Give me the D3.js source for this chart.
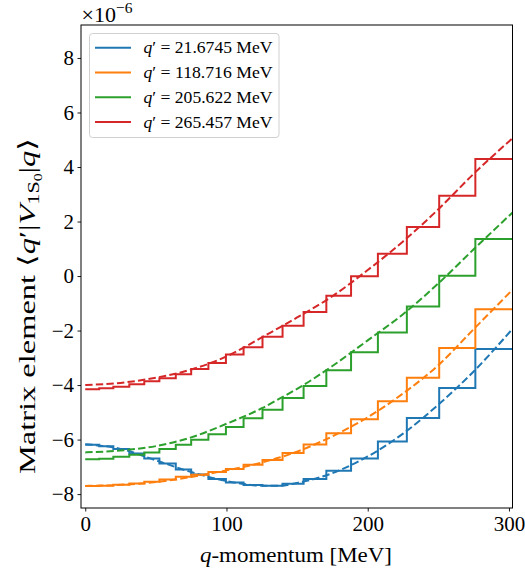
<!DOCTYPE html>
<html>
<head>
<meta charset="utf-8">
<script src="https://cdn.jsdelivr.net/npm/d3@7"></script>
<style>
  html, body { margin: 0; padding: 0; background: #fff; }
  svg { display: block; }
  text { font-family: "Liberation Serif", "DejaVu Serif", serif; fill: #000; }
</style>
</head>
<body>
<svg id="chart" width="525" height="576"></svg>
<script>
// ---------- data (values in units of 1e-6) ----------
const seriesNames = ["21.6745", "118.716", "205.622", "265.457"];
const seriesColors = ["#1f77b4", "#ff7f0e", "#2ca02c", "#d62728"];

// edges of the step (stairs) segments, MeV
const stepEdges = [0, 9.9, 19.9, 31.2, 41.8, 52.5, 64.1, 75.0, 87.2, 99.6, 112.1,
                   125.5, 139.7, 154.6, 170.7, 188.2, 207.2, 227.7, 250.6, 276.2, 310];

const stepBlue   = [-6.19, -6.24, -6.35, -6.51, -6.69, -6.88, -7.10, -7.28, -7.45, -7.57,
                    -7.67, -7.69, -7.62, -7.45, -7.14, -6.69, -6.07, -5.21, -4.11, -2.68];
const stepOrange = [-7.70, -7.69, -7.66, -7.61, -7.55, -7.46, -7.36, -7.29, -7.19, -7.08,
                    -6.92, -6.75, -6.49, -6.18, -5.77, -5.25, -4.59, -3.73, -2.64, -1.22];
const stepGreen  = [-6.72, -6.70, -6.63, -6.56, -6.47, -6.35, -6.19, -6.01, -5.80, -5.54,
                    -5.22, -4.91, -4.47, -4.03, -3.46, -2.80, -2.07, -1.12, 0.01, 1.36];
const stepRed    = [-4.15, -4.12, -4.06, -3.97, -3.86, -3.75, -3.60, -3.41, -3.19, -2.88,
                    -2.61, -2.23, -1.82, -1.32, -0.72, -0.01, 0.82, 1.80, 2.95, 4.29];

// dashed (continuous) curves sampled at these momenta, MeV
const dashQ      = [0, 25, 50, 75, 100, 112.5, 125, 137.5, 150, 175, 200, 225, 250, 275, 303.5];
const dashBlue   = [-6.17, -6.34, -6.76, -7.19, -7.52, -7.63, -7.69, -7.69, -7.59, -7.23, -6.62, -5.78, -4.72, -3.50, -1.88];
const dashOrange = [-7.70, -7.66, -7.56, -7.37, -7.13, -7.00, -6.84, -6.66, -6.44, -5.88, -5.18, -4.31, -3.27, -1.95, -0.45];
const dashGreen  = [-6.47, -6.40, -6.24, -5.92, -5.42, -5.15, -4.85, -4.50, -4.14, -3.30, -2.36, -1.40, -0.27, 0.98, 2.38];
const dashRed    = [-4.00, -3.92, -3.73, -3.43, -2.95, -2.62, -2.25, -1.89, -1.52, -0.74, 0.22, 1.27, 2.45, 3.75, 5.10];

const xTicks = [0, 100, 200, 300];
const yTicks = [-8, -6, -4, -2, 0, 2, 4, 6, 8];

const stepSeries = [stepBlue, stepOrange, stepGreen, stepRed];
const dashSeries = [dashBlue, dashOrange, dashGreen, dashRed];

// ---------- layout ----------
const svg = d3.select("#chart");
const L = 81, R = 512.5, T = 25, B = 508;
const x = d3.scaleLinear().domain([-3.0, 302.5]).range([L, R]);
const y = d3.scaleLinear().domain([-8.51, 9.21]).range([B, T]);

svg.append("defs").append("clipPath").attr("id", "plotclip")
  .append("rect").attr("x", L).attr("y", T).attr("width", R - L).attr("height", B - T);

const plot = svg.append("g").attr("clip-path", "url(#plotclip)");

const stairLine = d3.line().x(d => x(d[0])).y(d => y(d[1])).curve(d3.curveStepAfter);
const smoothLine = d3.line().x(d => x(d[0])).y(d => y(d[1])).curve(d3.curveMonotoneX);

stepSeries.forEach((vals, i) => {
  const pts = vals.map((v, k) => [stepEdges[k], v]);
  pts.push([stepEdges[stepEdges.length - 1], vals[vals.length - 1]]);
  plot.append("path").attr("d", stairLine(pts))
    .attr("fill", "none").attr("stroke", seriesColors[i]).attr("stroke-width", 2)
    .attr("stroke-linejoin", "miter");
  const dpts = dashQ.map((q, k) => [q, dashSeries[i][k]]);
  plot.append("path").attr("d", smoothLine(dpts))
    .attr("fill", "none").attr("stroke", seriesColors[i]).attr("stroke-width", 2)
    .attr("stroke-dasharray", "7.4,3.2");
});

// ---------- axes ----------
const fmt = d => d < 0 ? "\u2212" + Math.abs(d) : String(d);
const gx = svg.append("g").attr("transform", `translate(0,${B})`)
  .call(d3.axisBottom(x).tickValues(xTicks).tickSize(3.5).tickPadding(5).tickFormat(fmt));
const gy = svg.append("g").attr("transform", `translate(${L},0)`)
  .call(d3.axisLeft(y).tickValues(yTicks).tickSize(3.5).tickPadding(3.5).tickFormat(fmt));
[gx, gy].forEach(g => {
  g.select(".domain").remove();
  g.selectAll(".tick line").attr("stroke", "#000").attr("stroke-width", 0.9);
  g.selectAll(".tick text").attr("font-family", "Liberation Serif, serif").attr("font-size", 21).attr("fill", "#000");
});

svg.append("rect").attr("x", L).attr("y", T).attr("width", R - L).attr("height", B - T)
  .attr("fill", "none").attr("stroke", "#000").attr("stroke-width", 1);

// offset text
const off = svg.append("text").attr("x", 81.5).attr("y", 21.5).attr("font-size", 22);
off.append("tspan").text("\u00d710");
off.append("tspan").attr("font-size", 15.5).attr("dy", -8.5).text("\u22126");

// x label
const xl = svg.append("text").attr("x", 296).attr("y", 562).attr("text-anchor", "middle")
  .attr("font-size", 22).attr("textLength", 192).attr("lengthAdjust", "spacingAndGlyphs");
xl.append("tspan").attr("font-style", "italic").text("q");
xl.append("tspan").text("-momentum [MeV]");

// y label
const yl = svg.append("text").attr("transform", "translate(35,306) rotate(-90)")
  .attr("text-anchor", "middle").attr("font-size", 23.5)
  .attr("textLength", 336).attr("lengthAdjust", "spacingAndGlyphs");
yl.append("tspan").text("Matrix element \u27e8");
yl.append("tspan").attr("font-style", "italic").text("q");
yl.append("tspan").text("\u2032|");
yl.append("tspan").attr("font-style", "italic").text("V");
yl.append("tspan").attr("font-size", 16).attr("dy", 4).text("1S");
yl.append("tspan").attr("font-size", 11.5).attr("dy", 3).text("0");
yl.append("tspan").attr("dy", -7).text("|");
yl.append("tspan").attr("font-style", "italic").text("q");
yl.append("tspan").text("\u27e9");

// ---------- legend ----------
const lg = svg.append("g");
lg.append("rect").attr("x", 89.5).attr("y", 33.5).attr("width", 189.5).attr("height", 104)
  .attr("rx", 3).attr("fill", "#fff").attr("fill-opacity", 0.8).attr("stroke", "#d0d0d0").attr("stroke-width", 1);
const rowY = [47.7, 72.5, 97.3, 122.1];
seriesNames.forEach((nm, i) => {
  lg.append("line").attr("x1", 95).attr("x2", 131).attr("y1", rowY[i]).attr("y2", rowY[i])
    .attr("stroke", seriesColors[i]).attr("stroke-width", 2);
  const t = lg.append("text").attr("x", 143.5).attr("y", rowY[i] + 5.5).attr("font-size", 16.5)
    .attr("textLength", 129).attr("lengthAdjust", "spacingAndGlyphs");
  t.append("tspan").attr("font-style", "italic").text("q");
  t.append("tspan").text("\u2032 = " + nm + " MeV");
});
</script>
</body>
</html>
